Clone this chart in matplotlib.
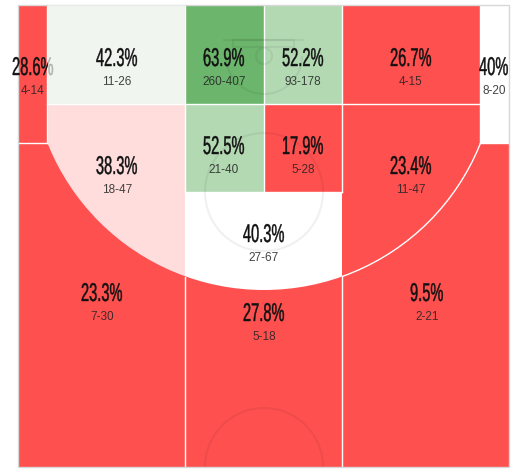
import matplotlib
matplotlib.use("Agg")
import matplotlib.pyplot as plt
import matplotlib.patheffects as pe
from matplotlib.patches import Rectangle, Circle
from matplotlib.transforms import Affine2D

# shooting zones, same order in every list
zone_pct = ["28.6%", "42.3%", "63.9%", "52.2%", "26.7%", "40%", "38.3%", "52.5%",
            "17.9%", "23.4%", "40.3%", "23.3%", "27.8%", "9.5%"]
zone_att = ["4-14", "11-26", "260-407", "93-178", "4-15", "8-20", "18-47", "21-40",
            "5-28", "11-47", "27-67", "7-30", "5-18", "2-21"]
zone_col = ["#ff5050", "#f0f5f0", "#6cb56c", "#b3d9b3", "#ff5050", "#ffffff", "#ffdddd", "#b3d9b3",
            "#ff5050", "#ff5050", "#ffffff", "#ff5050", "#ff5050", "#ff5050"]
# label centres in pixels
label_x = [33, 117, 224, 303, 411, 494, 117, 224, 303, 411, 264, 102, 264, 427]
label_y = [67, 58, 58, 58, 58, 67, 166, 146, 146, 166, 234, 293, 313, 293]


class Squeeze(pe.AbstractPathEffect):
    # narrow the glyphs, no condensed font here
    def __init__(self, sx, stroke):
        super().__init__()
        self.sx = sx
        self.stroke = stroke

    def draw_path(self, renderer, gc, tpath, affine, rgbFace=None):
        w = tpath.get_extents().x1
        t = Affine2D().translate(-w / 2, 0).scale(self.sx, 1).translate(w / 2, 0) + affine
        gc0 = renderer.new_gc()
        gc0.copy_properties(gc)
        gc0.set_linewidth(self.stroke)
        gc0.set_foreground(rgbFace)
        renderer.draw_path(gc0, tpath, t, rgbFace)
        gc0.restore()


fig = plt.figure(figsize=(5.22, 4.77), dpi=100)
ax = fig.add_axes([0, 0, 1, 1])
ax.set_xlim(0, 522)
ax.set_ylim(477, 0)
ax.axis("off")


def box(x0, y0, x1, y1, col, inside=None):
    r = Rectangle((x0, y0), x1 - x0, y1 - y0, fc=col, ec="none", zorder=1)
    ax.add_patch(r)
    if inside:
        r.set_clip_path(Circle((264, 58), 233, transform=ax.transData))
    return r


# outside the arc first, the rest goes on top
box(18, 6, 509, 468, "#ff5050")
box(480, 6, 509, 144, zone_col[5])
box(47, 6, 185, 105, zone_col[1])
box(185, 6, 264, 105, zone_col[2])
box(264, 6, 342, 105, zone_col[3])
box(342, 6, 480, 105, zone_col[4])
box(47, 105, 185, 300, zone_col[6], inside=True)
box(185, 105, 264, 193, zone_col[7])
box(264, 105, 342, 193, zone_col[8])
box(342, 105, 480, 300, zone_col[9], inside=True)
box(185, 193, 342, 300, zone_col[10], inside=True)

# white zone borders
line = dict(color="white", lw=1.0, zorder=2)
ax.plot([18, 47], [144, 144], **line)
ax.plot([480, 509], [144, 144], **line)
ax.plot([47, 47], [6, 144], **line)
ax.plot([480, 480], [6, 144], **line)
ax.plot([47, 480], [105, 105], **line)
ax.plot([185, 185], [6, 193], **line)
ax.plot([264, 264], [6, 193], **line)
ax.plot([342, 342], [6, 193], **line)
ax.plot([185, 342], [193, 193], **line)
ax.plot([185, 185], [278, 468], **line)
ax.plot([342, 342], [278, 468], **line)
rim = Circle((264, 58), 233, fc="none", ec="white", lw=1.0, zorder=2)
ax.add_patch(rim)
rim.set_clip_path(Rectangle((342, 144), 140, 160, transform=ax.transData))

# faint court markings
mark = dict(fc="none", ec="#000000", alpha=0.06, lw=1.5, zorder=3)
ax.add_patch(Circle((264, 193), 59, **mark))
ax.add_patch(Circle((264, 468), 59, **mark)).set_clip_path(
    Rectangle((18, 6), 491, 462, transform=ax.transData))
ax.add_patch(Circle((264, 57), 8, **mark))
ax.add_patch(Circle((264, 57), 38, **mark)).set_clip_path(
    Rectangle((220, 57), 88, 60, transform=ax.transData))
ax.add_patch(Rectangle((233, 41), 61, 7, **mark))
ax.plot([224, 303], [41, 41], color="black", alpha=0.06, lw=1.5, zorder=3)

# outer frame
ax.add_patch(Rectangle((18, 6), 491, 462, fc="none", ec="#d8d8d8", lw=1.0, zorder=4))


def labels(i, z):
    ax.text(label_x[i], label_y[i] + 9, zone_pct[i], ha="center", va="baseline", color="#111111",
            family="Liberation Sans", fontsize=18.5, zorder=z,
            path_effects=[Squeeze(0.57, 0.3)])
    ax.text(label_x[i], label_y[i] + 27, zone_att[i], ha="center", va="baseline", color="#222222",
            family="Liberation Sans", fontsize=8.5, zorder=z, alpha=0.85)


# the corner label runs under the next zone, the % comes out greyed
labels(0, 5)
ax.add_patch(Rectangle((47.5, 6), 137, 99, fc=zone_col[1], ec="none", alpha=0.7, zorder=5.5))
for i in range(1, len(zone_pct)):
    labels(i, 6)

fig.savefig("out.png", dpi=100)
